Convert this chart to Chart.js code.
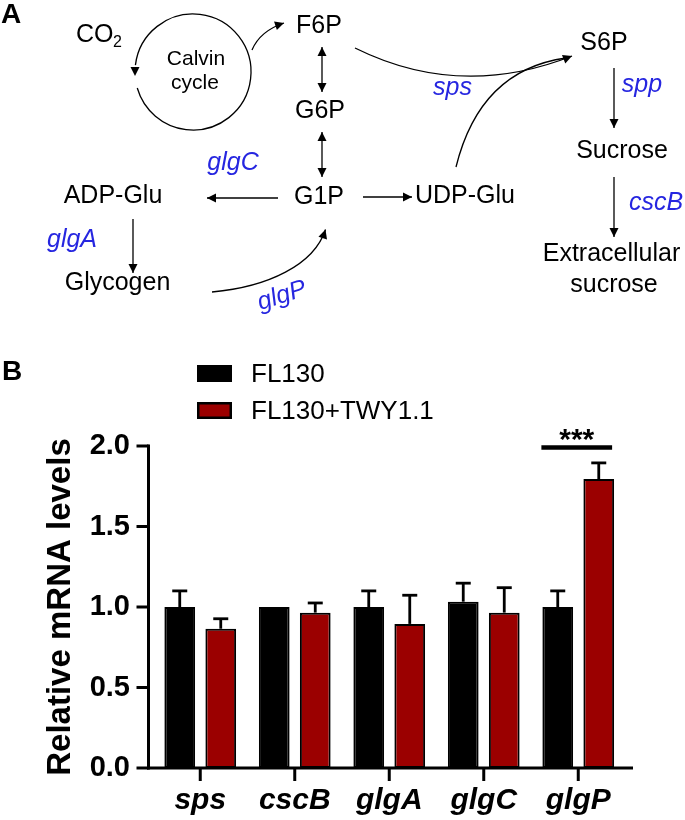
<!DOCTYPE html>
<html><head><meta charset="utf-8">
<script src="https://cdn.jsdelivr.net/npm/chart.js@4.4.0/dist/chart.umd.min.js"></script>
<style>html,body{margin:0;padding:0;background:#fff;overflow:hidden}canvas{display:block}</style>
</head><body>
<canvas id="c" width="685" height="820"></canvas>
<script>
// ---- data ----
const categories = ['sps', 'cscB', 'glgA', 'glgC', 'glgP'];
const seriesNames = ['FL130', 'FL130+TWY1.1'];
const fl130Values = [1.00, 1.00, 1.00, 1.033, 1.00];
const fl130Errors = [0.10, 0.00, 0.10, 0.115, 0.10];
const twyValues = [0.865, 0.965, 0.895, 0.965, 1.795];
const twyErrors = [0.062, 0.06, 0.178, 0.155, 0.10];
const yTickValues = [0, 0.5, 1.0, 1.5, 2.0];
const yTickLabels = ['0.0', '0.5', '1.0', '1.5', '2.0'];
const sigCategory = 'glgP';
const sigLabel = '***';
const sigLevel = 1.99;

const FONT = '"Liberation Sans", Arial, Helvetica, sans-serif';
const BLUE = '#2626e0';
const RED = '#9b0000';

function txt(ctx, s, x, y, size, o = {}) {
  ctx.save();
  ctx.font = `${o.style || 'normal'} ${o.weight || 'normal'} ${size}px ${FONT}`;
  ctx.fillStyle = o.color || '#000';
  ctx.textAlign = o.align || 'center';
  ctx.textBaseline = o.baseline || 'alphabetic';
  ctx.translate(x, y);
  if (o.rot) ctx.rotate(o.rot);
  ctx.fillText(s, 0, 0);
  ctx.restore();
}
function head(ctx, x, y, ang, len = 9, half = 4.5) {
  ctx.save();
  ctx.translate(x, y); ctx.rotate(ang);
  ctx.beginPath(); ctx.moveTo(0, 0); ctx.lineTo(-len, -half); ctx.lineTo(-len, half); ctx.closePath();
  ctx.fill(); ctx.restore();
}
function arrow(ctx, x1, y1, x2, y2, both) {
  const a = Math.atan2(y2 - y1, x2 - x1);
  ctx.beginPath(); ctx.moveTo(x1, y1); ctx.lineTo(x2, y2); ctx.stroke();
  head(ctx, x2, y2, a);
  if (both) head(ctx, x1, y1, a + Math.PI);
}

function drawPanelA(ctx) {
  ctx.save();
  ctx.strokeStyle = '#000'; ctx.fillStyle = '#000'; ctx.lineWidth = 1.3;
  // Calvin cycle circle
  ctx.beginPath();
  ctx.arc(193, 72, 58, Math.PI + 0.12, Math.PI - 0.28 + 2 * Math.PI);
  ctx.stroke();
  head(ctx, 135, 76, Math.PI / 2);
  // circle -> F6P
  ctx.beginPath(); ctx.moveTo(252, 50); ctx.quadraticCurveTo(260, 31, 284, 23); ctx.stroke();
  head(ctx, 284, 23, Math.atan2(23 - 31, 284 - 260));
  // F6P <-> G6P, G6P <-> G1P
  arrow(ctx, 322, 47, 322, 92, true);
  arrow(ctx, 322, 132, 322, 177, true);
  // G1P -> ADP-Glu
  arrow(ctx, 278, 198, 207, 198);
  // ADP-Glu -> Glycogen
  arrow(ctx, 133, 219, 133, 273);
  // Glycogen -> G1P
  ctx.beginPath(); ctx.moveTo(212, 292); ctx.bezierCurveTo(268, 287, 314, 265, 325.5, 229.5); ctx.stroke();
  head(ctx, 325.5, 229.5, Math.atan2(229.5 - 265, 325.5 - 314));
  // F6P -> S6P
  ctx.beginPath(); ctx.moveTo(355, 48); ctx.quadraticCurveTo(460, 100, 572, 56); ctx.stroke();
  // UDP-Glu -> S6P
  ctx.beginPath(); ctx.moveTo(456, 167); ctx.quadraticCurveTo(480, 70, 566, 58); ctx.stroke();
  head(ctx, 572, 56, Math.atan2(56 - 100, 572 - 460));
  // G1P -> UDP-Glu
  arrow(ctx, 363, 197, 412, 197);
  // S6P -> Sucrose, Sucrose -> Extracellular
  arrow(ctx, 614, 68, 614, 128);
  arrow(ctx, 614, 177, 614, 237);
  ctx.restore();

  // labels
  txt(ctx, 'A', 1, 23, 28, {weight: 'bold', align: 'left'});
  txt(ctx, 'CO', 76, 42, 25, {align: 'left'});
  txt(ctx, '2', 113, 47, 16, {align: 'left'});
  txt(ctx, 'Calvin', 196, 65, 21);
  txt(ctx, 'cycle', 195, 89, 21);
  txt(ctx, 'F6P', 319, 32.5, 25);
  txt(ctx, 'G6P', 320, 118, 25);
  txt(ctx, 'G1P', 319, 204, 25);
  txt(ctx, 'ADP-Glu', 113, 203, 25);
  txt(ctx, 'Glycogen', 117.5, 290, 25);
  txt(ctx, 'UDP-Glu', 465, 203, 25);
  txt(ctx, 'S6P', 604, 50, 25);
  txt(ctx, 'Sucrose', 622, 158, 25);
  txt(ctx, 'Extracellular', 611.5, 261, 25);
  txt(ctx, 'sucrose', 614, 291.5, 25);
  const g = {style: 'italic', color: BLUE};
  txt(ctx, 'glgC', 233, 170, 25, g);
  txt(ctx, 'glgA', 72, 247, 25, g);
  txt(ctx, 'sps', 452.5, 95, 25, g);
  txt(ctx, 'spp', 642, 92, 25, g);
  txt(ctx, 'cscB', 656, 210, 25, g);
  txt(ctx, 'glgP', 282, 296, 25, {style: 'italic', color: BLUE, baseline: 'middle', rot: -18 * Math.PI / 180});
}

const customDraw = {
  id: 'customDraw',
  afterDatasetsDraw(chart) {
    const ctx = chart.ctx, xs = chart.scales.x, ys = chart.scales.y;
    ctx.save();
    ctx.strokeStyle = '#000'; ctx.fillStyle = '#000';
    // error bars (upper only)
    chart.data.datasets.forEach((ds, di) => {
      const meta = chart.getDatasetMeta(di);
      meta.data.forEach((bar, i) => {
        const e = ds.errors[i];
        if (!e) return;
        const top = ys.getPixelForValue(ds.data[i]);
        const yc = ys.getPixelForValue(ds.data[i] + e);
        ctx.lineWidth = 2.8;
        ctx.beginPath(); ctx.moveTo(bar.x, top); ctx.lineTo(bar.x, yc); ctx.stroke();
        ctx.beginPath(); ctx.moveTo(bar.x - 7.5, yc); ctx.lineTo(bar.x + 7.5, yc); ctx.stroke();
      });
    });
    // axes
    const ax = chart.chartArea.left - 4.5;
    const y0 = ys.getPixelForValue(0), y2 = ys.getPixelForValue(2);
    ctx.lineWidth = 3;
    ctx.beginPath(); ctx.moveTo(ax, y2 - 1.5); ctx.lineTo(ax, y0 + 1.5); ctx.stroke();
    ctx.beginPath(); ctx.moveTo(ax - 1.5, y0); ctx.lineTo(chart.chartArea.right + 7.5, y0); ctx.stroke();
    ys.ticks.forEach(t => {
      const yy = ys.getPixelForValue(t.value);
      ctx.beginPath(); ctx.moveTo(ax - 12, yy); ctx.lineTo(ax, yy); ctx.stroke();
    });
    xs.ticks.forEach((t, i) => {
      const xx = xs.getPixelForTick(i);
      ctx.beginPath(); ctx.moveTo(xx, y0); ctx.lineTo(xx, y0 + 13); ctx.stroke();
    });
    // significance
    const ci = chart.data.labels.indexOf(sigCategory);
    const b0 = chart.getDatasetMeta(0).data[ci], b1 = chart.getDatasetMeta(1).data[ci];
    const xl = b0.x - b0.width / 2 - 1, xr = b1.x + b1.width / 2 - 2;
    const ysig = ys.getPixelForValue(sigLevel);
    ctx.lineWidth = 4.5;
    ctx.beginPath(); ctx.moveTo(xl, ysig); ctx.lineTo(xr, ysig); ctx.stroke();
    ctx.restore();
    txt(ctx, sigLabel, (xl + xr) / 2, ysig + 1.5, 30, {weight: 'bold'});
  },
  afterDraw(chart) {
    const ctx = chart.ctx;
    drawPanelA(ctx);
    txt(ctx, 'B', 2, 380, 28, {weight: 'bold', align: 'left'});
    // legend
    const rows = [365, 402];
    chart.data.datasets.forEach((ds, i) => {
      const y = rows[i];
      ctx.save();
      ctx.fillStyle = '#000';
      ctx.fillRect(197, y, 35, 17);
      ctx.fillStyle = ds.backgroundColor;
      ctx.fillRect(199.5, y + 2.5, 30, 12);
      ctx.restore();
      txt(ctx, ds.label, 251, y + 17, 26, {align: 'left'});
    });
  }
};

new Chart(document.getElementById('c'), {
  type: 'bar',
  data: {
    labels: categories,
    datasets: [
      {label: seriesNames[0], data: fl130Values, errors: fl130Errors, backgroundColor: '#000000',
       borderColor: '#000', borderWidth: 2, borderSkipped: false, categoryPercentage: 0.868, barPercentage: 0.749},
      {label: seriesNames[1], data: twyValues, errors: twyErrors, backgroundColor: RED,
       borderColor: '#000', borderWidth: 2, borderSkipped: false, categoryPercentage: 0.868, barPercentage: 0.749}
    ]
  },
  options: {
    responsive: false, animation: false, devicePixelRatio: 1,
    layout: {padding: {left: 0, right: 59.5, top: 446, bottom: 0}},
    plugins: {legend: {display: false}, tooltip: {enabled: false}},
    scales: {
      x: {
        grid: {display: false, drawTicks: false}, border: {display: false},
        ticks: {font: {family: FONT, size: 30, weight: 'bold', style: 'italic'}, color: '#000', padding: 15, maxRotation: 0, autoSkip: false},
        afterFit(s) { s.height = 52; }
      },
      y: {
        min: 0, max: 2,
        grid: {display: false, drawTicks: false}, border: {display: false},
        afterBuildTicks(s) { s.ticks = yTickValues.map(v => ({value: v})); },
        ticks: {
          callback: (v) => { const i = yTickValues.indexOf(v); return i >= 0 ? yTickLabels[i] : ''; },
          font: {family: FONT, size: 29, weight: 'bold'}, color: '#000', padding: 23
        },
        title: {display: true, text: 'Relative mRNA levels', font: {family: FONT, size: 33, weight: 'bold'}, color: '#000', padding: {top: 41, bottom: 0}},
        afterFit(s) { s.width = 153; }
      }
    }
  },
  plugins: [customDraw]
});
</script>
</body></html>
